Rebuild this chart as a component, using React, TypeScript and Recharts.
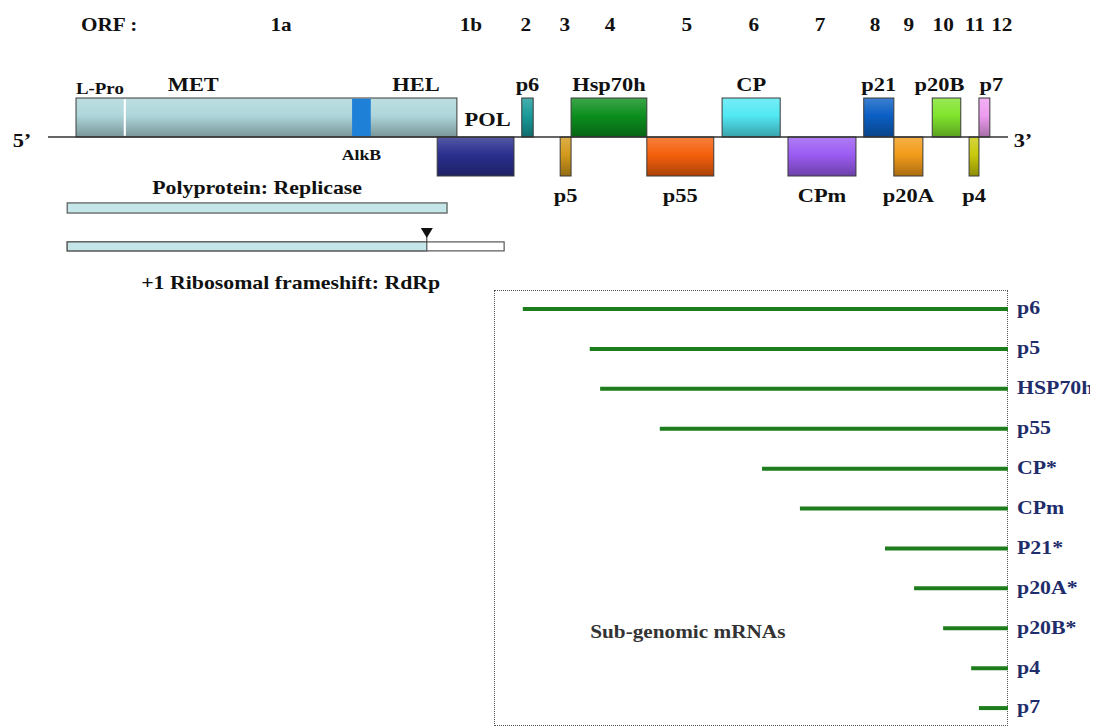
import React from "react";
import {
  ComposedChart,
  BarChart,
  Bar,
  Line,
  XAxis,
  YAxis,
  ReferenceArea,
  ReferenceDot,
  Label,
} from "recharts";

// genome positions in nt
const GENOME_LENGTH = 18500;

const orfLabels = ["1a", "1b", "2", "3", "4", "5", "6", "7", "8", "9", "10", "11", "12"];
const orfCentres = [4490, 8150, 9210, 9960, 10830, 12310, 13600, 14880, 15940, 16590, 17250, 17860, 18380];

const orf1aStart = 540;
const orf1aEnd = 7880;
const domainNames = ["L-Pro", "MET", "AlkB", "HEL"];
const domainStarts = [540, 2100, 5860, 6500];
const domainEnds = [1460, 3500, 6220, 7680];

const geneNames = ["POL", "p6", "p5", "Hsp70h", "p55", "CP", "CPm", "p21", "p20A", "p20B", "p4", "p7"];
const geneStarts = [7500, 9130, 9870, 10080, 11540, 12990, 14260, 15720, 16300, 17040, 17750, 17940];
const geneEnds = [8980, 9350, 10080, 11540, 12830, 14110, 15570, 16300, 16860, 17590, 17940, 18150];
const geneStrand = [-1, 1, -1, 1, -1, 1, -1, 1, -1, 1, -1, 1];

const productNames = ["Polyprotein: Replicase", "+1 Ribosomal frameshift: RdRp"];
const productStarts = [370, 370];
const productEnds = [7690, 8790];
const frameshiftAt = 7300;

const mrnaNames = ["p6", "p5", "HSP70h", "p55", "CP*", "CPm", "P21*", "p20A*", "p20B*", "p4", "p7"];
const mrnaStarts = [9150, 10440, 10640, 11790, 13760, 14490, 16130, 16690, 17250, 17790, 17940];

const geneColors: Record<string, string> = {
  "1a": "#aed6da",
  AlkB: "#1f80d8",
  POL: "#2b2f8f",
  p6: "#1a9a9a",
  p5: "#d39a1c",
  Hsp70h: "#0c8f1e",
  p55: "#f5600c",
  CP: "#52e8f4",
  CPm: "#9b5cf2",
  p21: "#0b5fc4",
  p20A: "#f39c1a",
  p20B: "#80e42c",
  p4: "#c9c90c",
  p7: "#ee9cf0",
};

// small nudges so crowded gene names don't collide
const labelShift: Record<string, number> = { POL: 12, p20B: -7, p7: 7 };

// layout
const WIDTH = 1090;
const TOP_H = 290;
const AXIS_H = 26;
const ORF_ROW_Y = 17;
const LINE_X0 = 40;
const LINE_LEN = 960;
const NT_PER_PX = GENOME_LENGTH / LINE_LEN;
const UNIT = 39;
const LINE_Y = 103;
const yMax = LINE_Y / UNIT;
const yMin = yMax - (TOP_H - AXIS_H) / UNIT;
const topDomain = [-LINE_X0 * NT_PER_PX, (WIDTH - LINE_X0) * NT_PER_PX];
const RIGHT_LABELS_W = 90;
const bottomDomain = [-LINE_X0 * NT_PER_PX, (WIDTH - RIGHT_LABELS_W - LINE_X0) * NT_PER_PX];
const PROTEIN_ROW = [-1.95, -1.69];
const RDRP_ROW = [-2.92, -2.69];

const STRETCH = 1.18;
const SERIF = '"Liberation Serif", "Times New Roman", serif';
const NAVY = "#1f2d6b";
const GREEN = "#1d7d1d";

function SText({ x, y, anchor = "middle", size = 19, fill = "#111", weight = 700, children }: any) {
  return (
    <text
      x={0}
      y={y}
      transform={`translate(${x} 0) scale(${STRETCH} 1)`}
      textAnchor={anchor}
      dominantBaseline="central"
      fontFamily={SERIF}
      fontSize={size}
      fontWeight={weight}
      fill={fill}
    >
      {children}
    </text>
  );
}

function mix(hex: string, target: number, t: number) {
  const n = parseInt(hex.slice(1), 16);
  const c = [(n >> 16) & 255, (n >> 8) & 255, n & 255].map((v) => Math.round(v + (target - v) * t));
  return `rgb(${c[0]},${c[1]},${c[2]})`;
}

function sideLabel(p: any, text: string, side: string, gap: number, size = 19, dx = 0) {
  const cx = p.x + p.width / 2 + dx;
  const cy = side === "top" ? p.y - gap : p.y + p.height + gap;
  return (
    <SText x={cx} y={cy} size={size}>
      {text}
    </SText>
  );
}

const boxShape = (id: string, color: string, label?: (p: any) => any, stroke = "#3a3a3a") => (p: any) => (
  <g>
    <defs>
      <linearGradient id={id} x1="0" y1="0" x2="0" y2="1">
        <stop offset="0%" stopColor={mix(color, 255, 0.2)} />
        <stop offset="45%" stopColor={color} />
        <stop offset="100%" stopColor={mix(color, 0, 0.3)} />
      </linearGradient>
    </defs>
    <rect x={p.x} y={p.y} width={p.width} height={p.height} fill={`url(#${id})`} stroke={stroke} strokeWidth={1} />
    {label ? label(p) : null}
  </g>
);

const textOnly = (label: (p: any) => any) => (p: any) => <g>{label(p)}</g>;

const genomeLine = [
  { pos: 0, strand: 0 },
  { pos: GENOME_LENGTH, strand: 0 },
];
const mrnaData = mrnaNames.map((name, i) => ({ name, span: [mrnaStarts[i], GENOME_LENGTH] }));

export default function App() {
  return (
    <div style={{ position: "relative", width: WIDTH, height: 719 }}>
      <div
        style={{
          position: "absolute",
          left: 486,
          top: 282,
          width: 514,
          height: 436,
          border: "1px dotted #555",
          boxSizing: "border-box",
        }}
      />
      <div style={{ position: "absolute", left: 0, top: 0 }}>
        <ComposedChart width={WIDTH} height={TOP_H} data={genomeLine} margin={{ top: 0, right: 0, bottom: 0, left: 0 }}>
          <XAxis
            dataKey="pos"
            type="number"
            orientation="top"
            domain={topDomain}
            allowDataOverflow
            ticks={orfCentres}
            interval={0}
            height={AXIS_H}
            axisLine={false}
            tickLine={false}
            tick={(t: any) => (
              <SText x={t.x} y={ORF_ROW_Y} size={18}>
                {orfLabels[orfCentres.indexOf(t.payload.value)]}
              </SText>
            )}
          >
            <Label
              content={(lp: any) => (
                <SText x={(lp.viewBox?.x ?? 0) + 73} y={ORF_ROW_Y} anchor="start" size={18}>
                  ORF :
                </SText>
              )}
            />
          </XAxis>
          <YAxis type="number" hide domain={[yMin, yMax]} allowDataOverflow />

          <Line
            dataKey="strand"
            stroke="#333"
            strokeWidth={1.6}
            dot={false}
            activeDot={false}
            isAnimationActive={false}
          />

          <ReferenceArea
            x1={orf1aStart}
            x2={orf1aEnd}
            y1={0}
            y2={1}
            shape={boxShape("g1a", geneColors["1a"])}
          />
          <ReferenceArea
            x1={domainEnds[0]}
            x2={domainEnds[0] + 40}
            y1={0.03}
            y2={0.97}
            shape={(p: any) => <rect x={p.x} y={p.y} width={p.width} height={p.height} fill="#fff" />}
          />
          {domainNames.map((name, i) =>
            name === "AlkB" ? (
              <ReferenceArea
                key={name}
                x1={domainStarts[i]}
                x2={domainEnds[i]}
                y1={0.02}
                y2={0.98}
                shape={(p: any) => (
                  <g>
                    <rect x={p.x} y={p.y} width={p.width} height={p.height} fill={geneColors.AlkB} />
                    {sideLabel(p, name, "bottom", 19, 15)}
                  </g>
                )}
              />
            ) : (
              <ReferenceArea
                key={name}
                x1={domainStarts[i]}
                x2={domainEnds[i]}
                y1={0}
                y2={1}
                shape={textOnly((p) => sideLabel(p, name, "top", name === "L-Pro" ? 9 : 14, name === "L-Pro" ? 16 : 19))}
              />
            )
          )}

          {geneNames.map((name, i) => (
            <ReferenceArea
              key={name}
              x1={geneStarts[i]}
              x2={geneEnds[i]}
              y1={geneStrand[i] > 0 ? 0 : -1}
              y2={geneStrand[i] > 0 ? 1 : 0}
              shape={boxShape(`g${i}`, geneColors[name], (p) =>
                name === "POL"
                  ? sideLabel(p, name, "top", 18, 19, labelShift[name])
                  : sideLabel(
                      p,
                      name,
                      geneStrand[i] > 0 ? "top" : "bottom",
                      geneStrand[i] > 0 ? 14 : 19,
                      19,
                      labelShift[name] ?? 0
                    )
              )}
            />
          ))}

          <ReferenceArea
            x1={productStarts[0]}
            x2={productEnds[0]}
            y1={PROTEIN_ROW[0]}
            y2={PROTEIN_ROW[1]}
            shape={(p: any) => (
              <g>
                <rect x={p.x} y={p.y} width={p.width} height={p.height} fill="#c4e6e8" stroke="#555" strokeWidth={1.2} />
                {sideLabel(p, productNames[0], "top", 15, 18.5)}
              </g>
            )}
          />
          <ReferenceArea
            x1={productStarts[1]}
            x2={productEnds[1]}
            y1={RDRP_ROW[0]}
            y2={RDRP_ROW[1]}
            shape={(p: any) => (
              <g>
                <rect x={p.x} y={p.y} width={p.width} height={p.height} fill="#fff" stroke="#555" strokeWidth={1.2} />
                {sideLabel(p, productNames[1], "bottom", 32, 18.5, 5)}
              </g>
            )}
          />
          <ReferenceArea
            x1={productStarts[1]}
            x2={frameshiftAt}
            y1={RDRP_ROW[0]}
            y2={RDRP_ROW[1]}
            shape={(p: any) => (
              <rect x={p.x} y={p.y} width={p.width} height={p.height} fill="#c4e6e8" stroke="#555" strokeWidth={1.2} />
            )}
          />
          <ReferenceDot
            x={frameshiftAt}
            y={RDRP_ROW[1]}
            shape={(p: any) => (
              <g>
                <path d={`M${p.cx - 6},${p.cy - 14} L${p.cx + 6},${p.cy - 14} L${p.cx},${p.cy - 4} Z`} fill="#111" />
                <line x1={p.cx} x2={p.cx} y1={p.cy - 5} y2={p.cy} stroke="#333" strokeWidth={1} />
              </g>
            )}
          />

          <ReferenceDot x={0} y={0} shape={(p: any) => <SText x={p.cx - 26} y={p.cy + 3}>5’</SText>} />
          <ReferenceDot
            x={GENOME_LENGTH}
            y={0}
            ifOverflow="visible"
            shape={(p: any) => <SText x={p.cx + 15} y={p.cy + 3}>3’</SText>}
          />
        </ComposedChart>
      </div>

      <div style={{ position: "absolute", left: 0, top: 281 }}>
        <BarChart
          width={WIDTH}
          height={439}
          data={mrnaData}
          layout="vertical"
          margin={{ top: 0, right: 0, bottom: 0, left: 0 }}
        >
          <XAxis type="number" hide domain={bottomDomain} allowDataOverflow />
          <YAxis
            type="category"
            dataKey="name"
            orientation="right"
            width={RIGHT_LABELS_W}
            axisLine={false}
            tickLine={false}
            tickSize={0}
            tickMargin={9}
            interval={0}
            tick={(t: any) => (
              <SText x={t.x} y={t.y - 1} anchor="start" fill={NAVY} size={18.5}>
                {t.payload.value}
              </SText>
            )}
          />
          <Bar dataKey="span" fill={GREEN} barSize={4} isAnimationActive={false} />
          <ReferenceDot
            x={12330}
            y="p20B*"
            shape={(p: any) => (
              <SText x={p.cx} y={p.cy + 3} size={18} fill="#333">
                Sub-genomic mRNAs
              </SText>
            )}
          />
        </BarChart>
      </div>
    </div>
  );
}
